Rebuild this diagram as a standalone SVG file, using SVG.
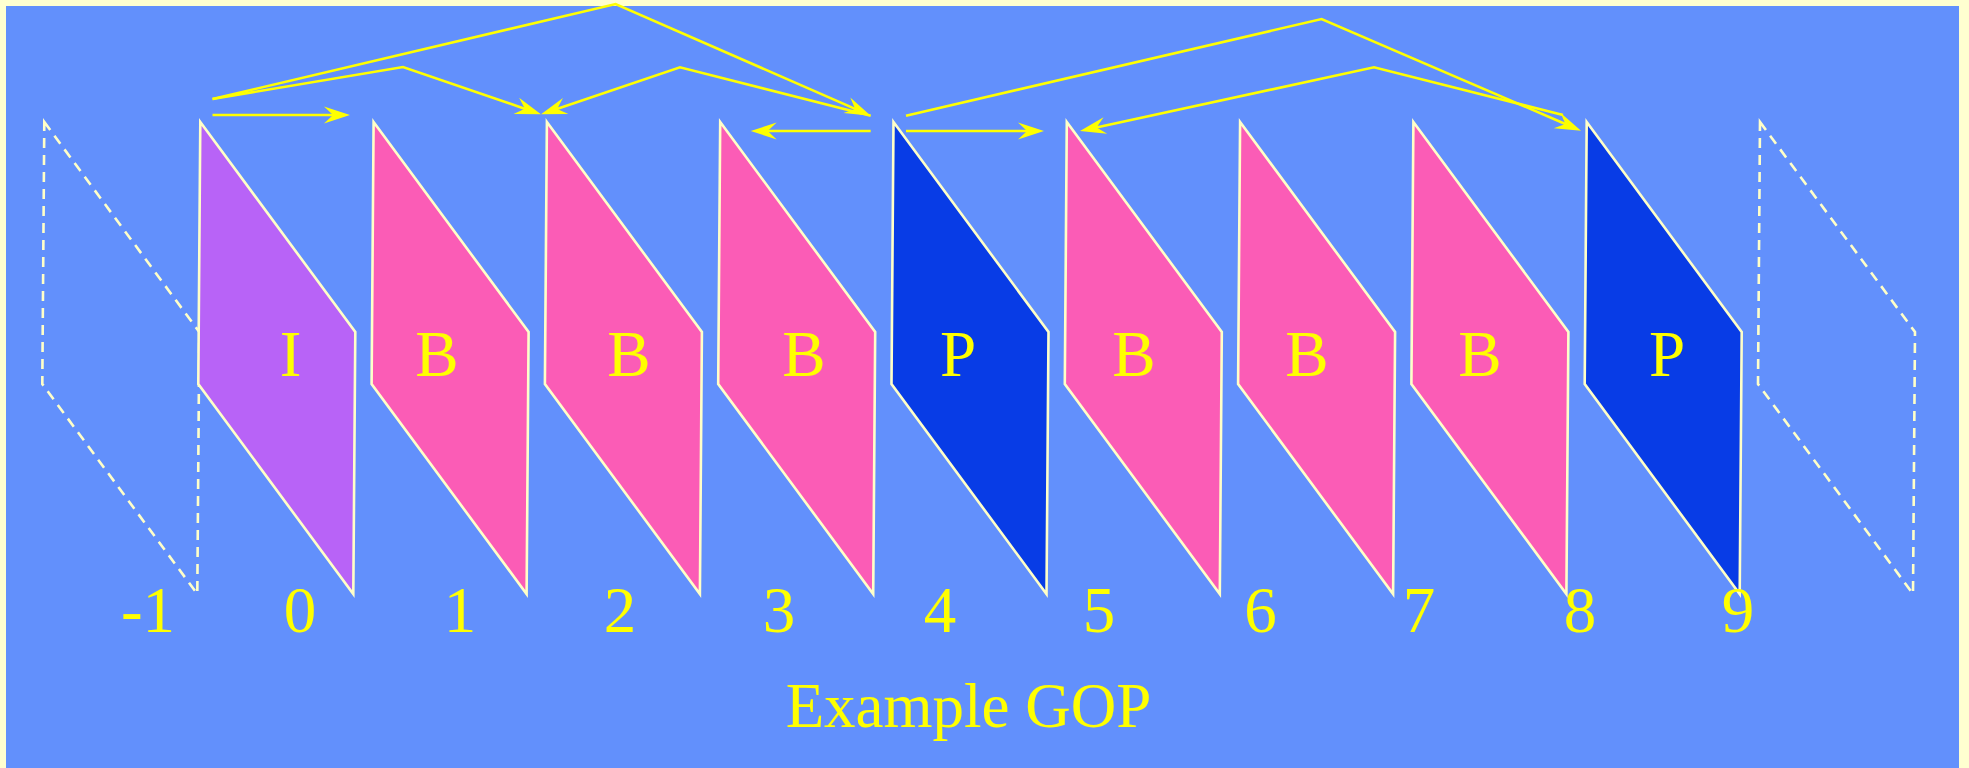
<svg xmlns="http://www.w3.org/2000/svg" width="1969" height="768" viewBox="0 0 1969 768">
<style>
.frame{stroke:#FFFFC8;stroke-width:2.6;stroke-linejoin:miter}
.ghost{fill:none;stroke:#FFFFC8;stroke-width:2.6;stroke-dasharray:10 7}
.i{fill:#B863F7}.b{fill:#FB5CB6}.p{fill:#083CE6}
.lbl{font-family:"Liberation Serif","Times New Roman",serif;font-size:65px;fill:#FFFF00;text-anchor:middle}
.conn path{fill:none;stroke:#FFFF00;stroke-width:2.6}
</style>
<defs>
<marker id="ah" markerUnits="userSpaceOnUse" viewBox="-30 -12 32 24" markerWidth="32" markerHeight="24" refX="-12" refY="0" orient="auto">
<path d="M0,0 L-26,-8.5 L-17,0 L-26,8.5 Z" fill="#FFFF00"/>
</marker>
</defs>
<rect x="0" y="0" width="1969" height="768" fill="#FFFFD0"/>
<rect x="6" y="6" width="1953" height="800" fill="#6290FC"/>

<g id="ghost-left"><polygon class="ghost" points="44.3,122 199.3,332 197.3,594 42.3,384"/></g>
<g id="ghost-right"><polygon class="ghost" points="1760,122 1915,332 1913,594 1758,384"/></g>

<g id="frame0"><polygon class="frame i" points="200.3,122 355.3,332 353.3,594 198.3,384"/><text class="lbl" x="290.5" y="376">I</text></g>
<g id="frame1"><polygon class="frame b" points="373.6,122 528.6,332 526.6,594 371.6,384"/><text class="lbl" x="437" y="376">B</text></g>
<g id="frame2"><polygon class="frame b" points="546.9,122 701.9,332 699.9,594 544.9,384"/><text class="lbl" x="629" y="376">B</text></g>
<g id="frame3"><polygon class="frame b" points="720.2,122 875.2,332 873.2,594 718.2,384"/><text class="lbl" x="804" y="376">B</text></g>
<g id="frame4"><polygon class="frame p" points="893.5,122 1048.5,332 1046.5,594 891.5,384"/><text class="lbl" x="958" y="376">P</text></g>
<g id="frame5"><polygon class="frame b" points="1066.8,122 1221.8,332 1219.8,594 1064.8,384"/><text class="lbl" x="1134" y="376">B</text></g>
<g id="frame6"><polygon class="frame b" points="1240.1,122 1395.1,332 1393.1,594 1238.1,384"/><text class="lbl" x="1307" y="376">B</text></g>
<g id="frame7"><polygon class="frame b" points="1413.4,122 1568.4,332 1566.4,594 1411.4,384"/><text class="lbl" x="1480" y="376">B</text></g>
<g id="frame8"><polygon class="frame p" points="1586.7,122 1741.7,332 1739.7,594 1584.7,384"/><text class="lbl" x="1667" y="376">P</text></g>

<g id="connectors" class="conn">
<path d="M212.5,99 L615.6,4 L859.7,110.9" marker-end="url(#ah)"/>
<path d="M212.5,99 L403,67 L529.6,110.4" marker-end="url(#ah)"/>
<path d="M212.5,115 L338,115" marker-end="url(#ah)"/>
<path d="M870.7,115.7 L680,67.3 L552.4,110.5" marker-end="url(#ah)"/>
<path d="M870.7,131 L762.7,131" marker-end="url(#ah)"/>
<path d="M906,131 L1032,131" marker-end="url(#ah)"/>
<path d="M906,115.7 L1321.6,19 L1570,126" marker-end="url(#ah)"/>
<path d="M1563,115 L1374,67.3 L1091.7,128.5" marker-end="url(#ah)"/>
</g>

<g id="numbers">
<text class="lbl" x="148" y="632">-1</text>
<text class="lbl" x="300" y="632">0</text>
<text class="lbl" x="460" y="632">1</text>
<text class="lbl" x="620" y="632">2</text>
<text class="lbl" x="779" y="632">3</text>
<text class="lbl" x="940" y="632">4</text>
<text class="lbl" x="1099" y="632">5</text>
<text class="lbl" x="1260.5" y="632">6</text>
<text class="lbl" x="1419" y="632">7</text>
<text class="lbl" x="1580" y="632">8</text>
<text class="lbl" x="1738" y="632">9</text>
</g>
<g id="title"><text class="lbl" x="968.5" y="727" style="font-size:63px">Example GOP</text></g>
</svg>
